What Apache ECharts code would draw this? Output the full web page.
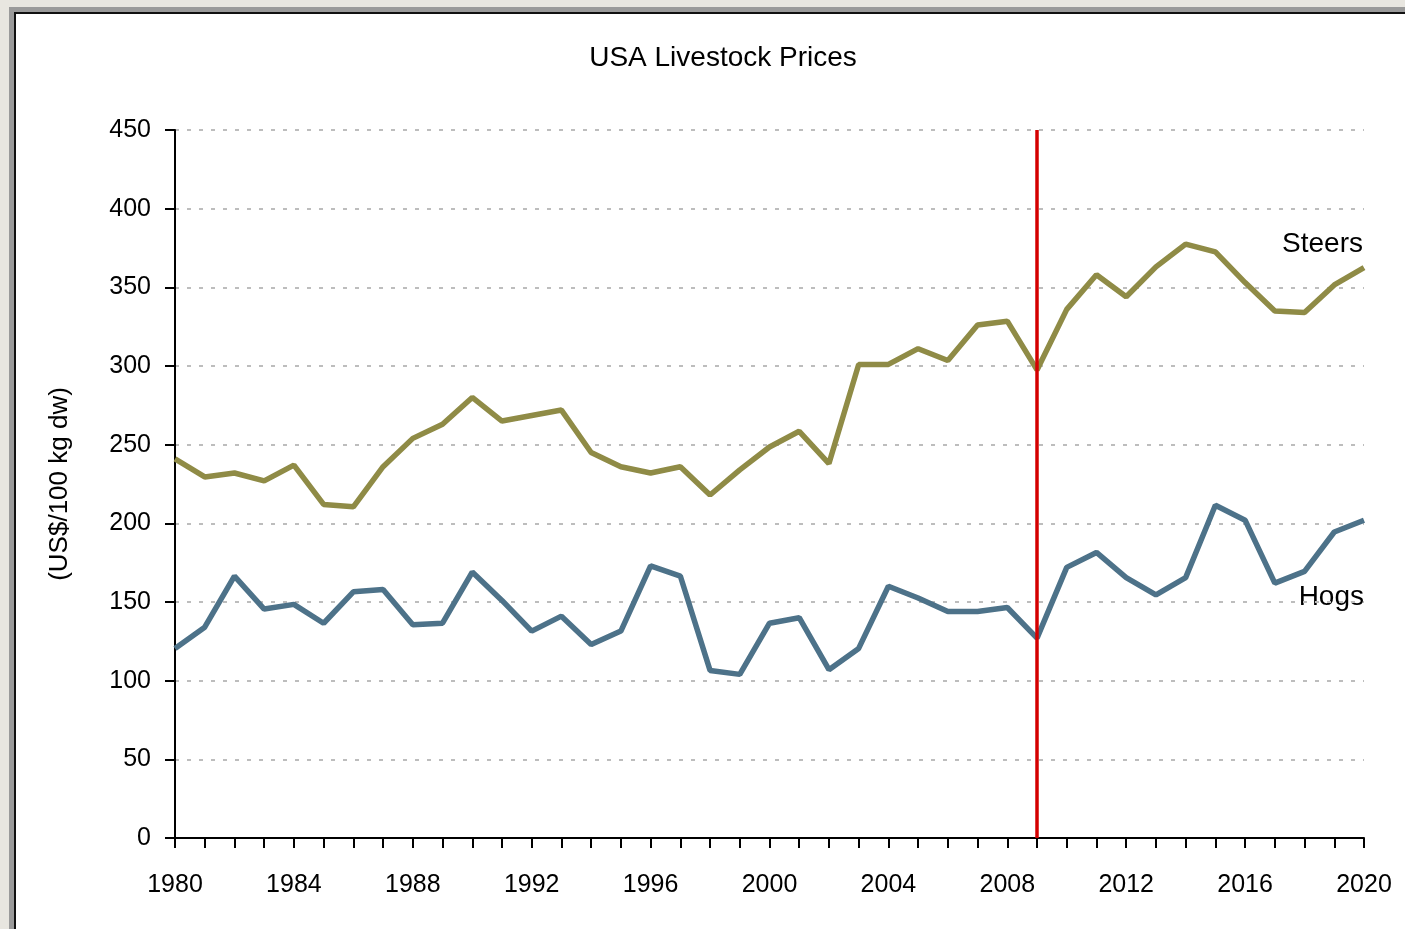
<!DOCTYPE html>
<html>
<head>
<meta charset="utf-8">
<script src="https://cdn.jsdelivr.net/npm/echarts@6/dist/echarts.min.js"></script>
<style>
  html, body { margin: 0; padding: 0; }
  body { width: 1405px; height: 929px; background: #e8e6e0; position: relative; overflow: hidden; }
  #frame { position: absolute; left: 9px; top: 7px; right: 0; bottom: 0; background: #9a9a9a; }
  #inner { position: absolute; left: 5px; top: 5px; right: 0; bottom: 0; background: #111; }
  #paper { position: absolute; left: 2px; top: 2px; right: 0; bottom: 0; background: #fff; }
  #chart { position: absolute; left: 0; top: 0; width: 1405px; height: 929px; }
</style>
</head>
<body>
<div id="frame"><div id="inner"><div id="paper"></div></div></div>
<div id="chart"></div>
<script>
// years 1980..2020
var years = ['1980','1981','1982','1983','1984','1985','1986','1987','1988','1989',
  '1990','1991','1992','1993','1994','1995','1996','1997','1998','1999',
  '2000','2001','2002','2003','2004','2005','2006','2007','2008','2009',
  '2010','2011','2012','2013','2014','2015','2016','2017','2018','2019','2020'];

// US$/100 kg dw
var steers = [241, 229.5, 232, 227, 237, 212, 210.5, 236, 254, 263,
  280, 265, 268.5, 272, 245, 236, 232, 236, 218, 234,
  248.5, 258.5, 238, 301, 301, 311, 303.5, 326, 328.5, 297.5,
  336, 358, 344, 363, 377.5, 372.5, 353, 335, 334, 351.5, 362.5];

var hogs = [120.5, 134, 166.5, 145.5, 148.5, 136.5, 156.5, 158, 135.5, 136.5,
  169, 151, 131.5, 141, 123, 131.5, 173, 166.5, 106.5, 104,
  136.5, 140, 107, 120.5, 160, 152.5, 144, 144, 146.5, 127,
  172, 181.5, 165.5, 154.5, 165.5, 211.5, 202, 162, 169.5, 194.5, 202];

var markYear = '2009';

var fontFam = '"Liberation Sans Narrow", "Liberation Sans", Arial, sans-serif';

var chart = echarts.init(document.getElementById('chart'), null, { renderer: 'canvas' });

var option = {
  backgroundColor: 'transparent',
  animation: false,
  title: {
    text: 'USA Livestock Prices',
    left: 718,
    top: 39,
    textAlign: 'center',
    textStyle: { fontFamily: fontFam, fontSize: 28, fontWeight: 'normal', color: '#000' }
  },
  grid: { left: 175, right: 41, top: 130, bottom: 91 },
  xAxis: {
    type: 'category',
    data: years,
    boundaryGap: false,
    axisLine: { lineStyle: { color: '#000', width: 2 } },
    axisTick: { show: true, interval: 0, length: 10, lineStyle: { color: '#000', width: 2 } },
    axisLabel: {
      interval: 3, margin: 35, color: '#000',
      fontFamily: fontFam, fontSize: 25
    },
    splitLine: { show: false }
  },
  yAxis: {
    type: 'value',
    min: 0, max: 450, interval: 50,
    name: '(US$/100 kg dw)',
    nameLocation: 'middle',
    nameGap: 102,
    nameTextStyle: { fontFamily: fontFam, fontSize: 26, color: '#000' },
    axisLine: { show: true, lineStyle: { color: '#000', width: 2 } },
    axisTick: { show: true, length: 10, lineStyle: { color: '#000', width: 2 } },
    axisLabel: { margin: 24, color: '#000', fontFamily: fontFam, fontSize: 25 },
    splitLine: { show: true, lineStyle: { color: '#bdbdbd', width: 2, type: [4, 8] } }
  },
  series: [
    {
      name: 'Steers',
      type: 'line',
      data: steers,
      symbol: 'none',
      lineStyle: { color: '#8f8b46', width: 5.5 },
      z: 3
    },
    {
      name: 'Hogs',
      type: 'line',
      data: hogs,
      symbol: 'none',
      lineStyle: { color: '#4d7289', width: 5.5 },
      z: 3,
      markLine: {
        silent: true,
        symbol: 'none',
        label: { show: false },
        lineStyle: { color: '#d40000', width: 3.5, type: 'solid' },
        data: [{ xAxis: markYear }],
        z: 5
      }
    }
  ],
  graphic: [
    {
      type: 'text', right: 42, top: 230,
      style: { text: 'Steers', font: '28px ' + fontFam, fill: '#000' }
    },
    {
      type: 'text', right: 41, top: 583,
      style: { text: 'Hogs', font: '28px ' + fontFam, fill: '#000' }
    }
  ]
};

chart.setOption(option);
</script>
</body>
</html>
